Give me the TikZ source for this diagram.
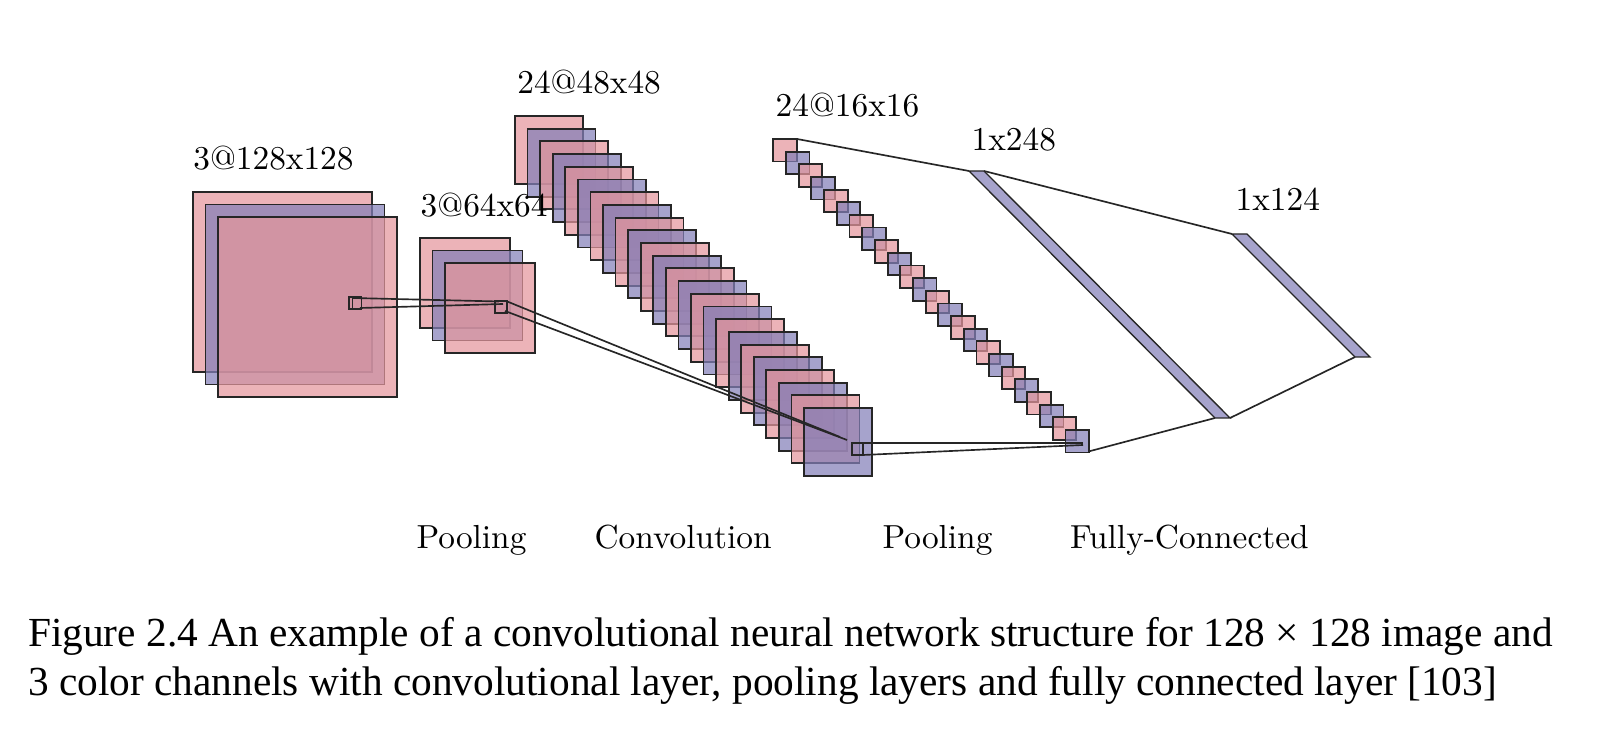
\documentclass[tikz,border=0pt]{standalone}
\usepackage{fontspec}
\newfontfamily\capfont{Liberation Serif}
\definecolor{lpink}{RGB}{228,150,156}
\definecolor{lblue}{RGB}{132,127,184}
\begin{document}
\begin{tikzpicture}[x=0.3pt,y=-0.3pt,
  fm/.style={draw=black!85, line width=0.55pt, fill opacity=0.72},
  pk/.style={fm, fill=lpink},
  bl/.style={fm, fill=lblue},
  conn/.style={draw=black!85, line width=0.5pt},
  lab/.style={font=\fontsize{10}{12}\selectfont, anchor=base west, inner sep=0pt},
  captext/.style={font=\capfont\fontsize{12.4}{14}\selectfont, anchor=base west, inner sep=0pt}]
\useasboundingbox (0,0) rectangle (1600,748);

% input layer 3@128x128
\draw[pk] (193,192) rectangle +(179,180);
\draw[bl] (205.5,204.5) rectangle +(179,180);
\draw[pk] (218,217) rectangle +(179,180);

% pooling layer 3@64x64
\draw[pk] (420,238) rectangle +(90,90);
\draw[bl] (432.5,250.5) rectangle +(90,90);
\draw[pk] (445,263) rectangle +(90,90);

% convolution 24@48x48
\foreach \i in {0,...,23}{
  \pgfmathsetmacro\xx{515+12.57*\i}
  \pgfmathsetmacro\yy{116+12.7*\i}
  \ifodd\i \def\col{lblue}\else\def\col{lpink}\fi
  \draw[fm, fill=\col] (\xx,\yy) rectangle +(68,68);
}

% pooling 24@16x16
\foreach \i in {0,...,23}{
  \pgfmathsetmacro\xx{773.3+12.7*\i}
  \pgfmathsetmacro\yy{139+12.65*\i}
  \ifodd\i \def\col{lblue}\else\def\col{lpink}\fi
  \draw[fm, fill=\col] (\xx,\yy) rectangle +(23.5,22.5);
}

% fully connected bars
\draw[fm, fill=lblue, line width=0.4pt] (969,171) -- (984,171) -- (1230,418) -- (1215,418) -- cycle;
\draw[fm, fill=lblue, line width=0.4pt] (1232,234) -- (1247,234) -- (1370,357) -- (1355,357) -- cycle;

% windows
\draw[conn] (349,297) rectangle (361.5,309);
\draw[conn] (352.5,297) -- (352.5,309);
\draw[conn] (495,301) rectangle (507,313);
\draw[conn] (852,443) rectangle (863,455);

% named connector points
\coordinate (w1a) at (352.5,298);
\coordinate (w1b) at (360,308);
\coordinate (w2a) at (499,301.5);
\coordinate (w2b) at (503,304);
\coordinate (w2c) at (506,301);
\coordinate (w2d) at (505,311);
\coordinate (w3a) at (840,437);
\coordinate (w3b) at (847,440);
\coordinate (w3c) at (863,443);
\coordinate (w3d) at (863,455);
\coordinate (p2a) at (1083,443);
\coordinate (p2b) at (1083,445);
\coordinate (p2tr) at (797,139);
\coordinate (p2br) at (1088.5,451.5);
\coordinate (f1tl) at (969,171);
\coordinate (f1tr) at (984,171);
\coordinate (f1bl) at (1215,418);
\coordinate (f1br) at (1230,418);
\coordinate (f2tl) at (1232,234);
\coordinate (f2bl) at (1355,357);

\draw[conn] (w1a) -- (w2a);
\draw[conn] (w1b) -- (w2b);
\draw[conn] (w2c) -- (w3a);
\draw[conn] (w2d) -- (w3b);
\draw[conn] (w3c) -- (p2a);
\draw[conn] (w3d) -- (p2b);
\draw[conn] (p2tr) -- (f1tl);
\draw[conn] (f1tr) -- (f2tl);
\draw[conn] (f2bl) -- (f1br);
\draw[conn] (f1bl) -- (p2br);

% labels
\node[lab] (t1) at (192.7,170) {3@128x128};
\node[lab] (t2) at (420,216.5) {3@64x64};
\node[lab] (t3) at (516.7,94) {24@48x48};
\node[lab] (t4) at (775,116.5) {24@16x16};
\node[lab] (t5) at (971,151) {1x248};
\node[lab] (t6) at (1235,211) {1x124};

\node[lab] (b1) at (416,549) {Pooling};
\node[lab] (b2) at (594,549) {Convolution};
\node[lab] (b3) at (882,549) {Pooling};
\node[lab] (b4) at (1069.5,549) {Fully-Connected};

\node[captext] (c1) at (27.5,647) {Figure 2.4 An example of a convolutional neural network structure for 128 × 128 image and};
\node[captext] (c2) at (27.5,696) {3 color channels with convolutional layer, pooling layers and fully connected layer [103]};
\end{tikzpicture}
\end{document}
